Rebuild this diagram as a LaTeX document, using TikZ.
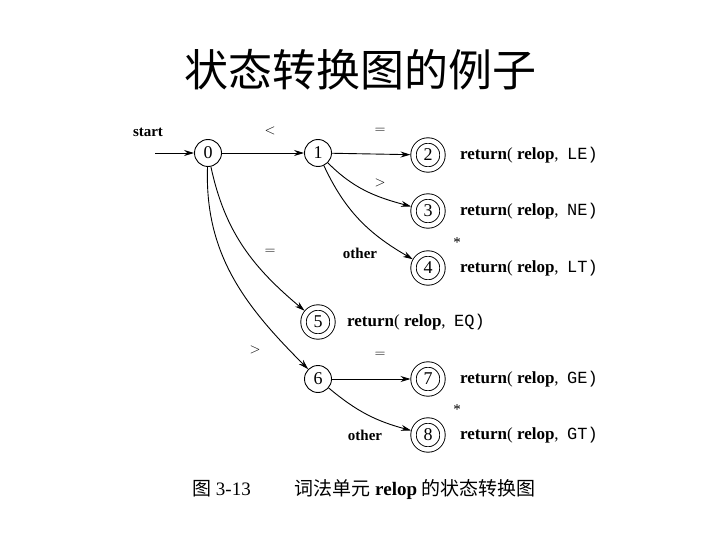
\documentclass[tikz,border=0pt]{standalone}
\usepackage{fontspec}
\setmainfont{Liberation Serif}
\setmonofont{Liberation Mono}
\newfontfamily\cjk{Noto Sans CJK SC}
\usetikzlibrary{arrows.meta}
\tikzset{
  st/.style={circle,draw,line width=0.9pt,minimum size=27pt,inner sep=0pt,font=\fontsize{18}{18}\selectfont},
  accept/.style={st,minimum size=29pt,double,double distance=4.5pt,outer sep=3pt},
  edge/.style={line width=0.9pt,-{Stealth[length=10pt,width=6pt]}},
  lbl/.style={font=\fontsize{15}{15}\selectfont,inner sep=0pt},
  ret/.style={font=\fontsize{17}{17}\selectfont,anchor=west,inner sep=0pt},
}
\newcommand{\ret}[1]{\textbf{return}(\ \textbf{relop}, \ \texttt{#1)}}
\begin{document}
\begin{tikzpicture}[x=1pt,y=-1pt]
\useasboundingbox (0,0) rectangle (720,540);
\node[font=\cjk\fontsize{44}{44}\selectfont] (title) at (360,70) {状态转换图的例子};
\node[st] (0) at (208,153) {0};
\node[st] (1) at (318,153) {1};
\node[accept] (2) at (428,155) {2};
\node[accept] (3) at (428,211) {3};
\node[accept] (4) at (428,268) {4};
\node[accept] (5) at (318,322) {5};
\node[st] (6) at (318,379) {6};
\node[accept] (7) at (428,379) {7};
\node[accept] (8) at (428,435) {8};
\coordinate (s) at (155,153);
\node[lbl,font=\bfseries\fontsize{15}{15}\selectfont] (start) at (148,132) {start};
\draw[edge] (s) -- (0);
\draw[edge] (0) -- (1);
\draw[edge] (1) -- (2);
\draw[edge] (1) to[out=-45,in=165] (3);
\draw[edge] (1) to[out=-65,in=150] (4);
\draw[edge] (0) to[out=-78,in=140] (5);
\draw[edge] (0) to[out=-92,in=135] (6);
\draw[edge] (6) -- (7);
\draw[edge] (6) to[out=-40,in=165] (8);
\node[lbl] (l01) at (270,131) {$<$};
\node[lbl] (l12) at (380,131) {$=$};
\node[lbl] (l13) at (380,183) {$>$};
\node[lbl,font=\bfseries\fontsize{15}{15}\selectfont] (l14) at (360,253) {other};
\node[lbl] (s4) at (457,243) {*};
\node[lbl] (l05) at (270,252) {$=$};
\node[lbl] (l06) at (255,350) {$>$};
\node[lbl] (l67) at (380,355) {$=$};
\node[lbl,font=\bfseries\fontsize{15}{15}\selectfont] (l68) at (365,435) {other};
\node[lbl] (s8) at (457,410) {*};
\node[ret] (r2) at (460,155) {\ret{LE}};
\node[ret] (r3) at (460,211) {\ret{NE}};
\node[ret] (r4) at (460,268) {\ret{LT}};
\node[ret] (r5) at (347,322) {\ret{EQ}};
\node[ret] (r7) at (460,379) {\ret{GE}};
\node[ret] (r8) at (460,435) {\ret{GT}};
\node[font=\fontsize{19}{19}\selectfont,anchor=west,inner sep=0pt] (cap) at (192,490) {{\cjk 图} 3-13\hspace{2.3em}{\cjk 词法单元} \textbf{relop} {\cjk 的状态转换图}};
\end{tikzpicture}
\end{document}
